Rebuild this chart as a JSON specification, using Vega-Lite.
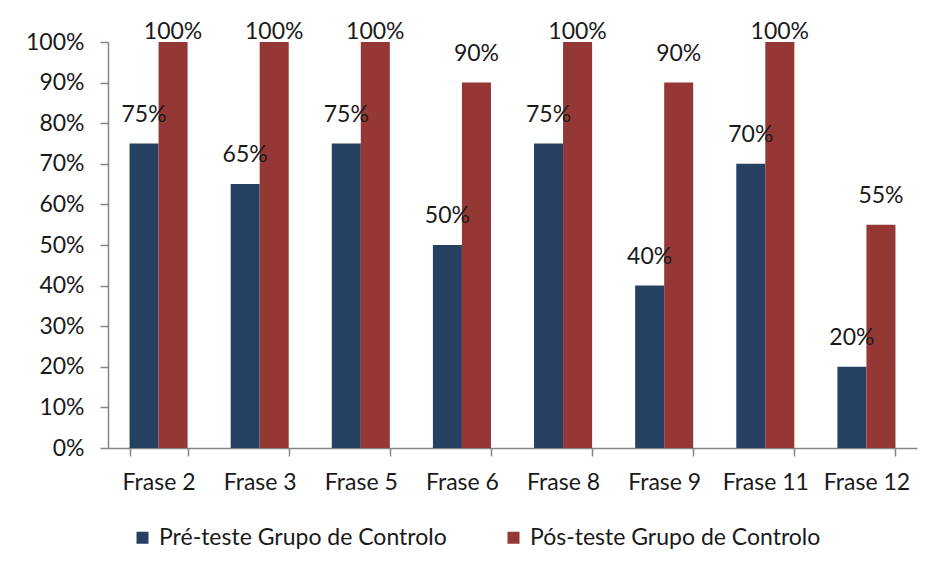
{
  "$schema": "https://vega.github.io/schema/vega-lite/v6.json",
  "width": 809,
  "height": 406,
  "autosize": "none",
  "padding": {"left": 108, "top": 42, "right": 16, "bottom": 120},
  "background": "white",
  "config": {
    "view": {"stroke": null},
    "font": "Lato",
    "axis": {"labelFont": "Lato", "labelFontSize": 23, "labelColor": "#1a1a1a", "domainColor": "#868686", "tickColor": "#868686", "domainWidth": 1.5, "tickWidth": 1.5, "tickSize": 8, "grid": false, "title": null, "labelOverlap": false}
  },
  "data": {
    "values": [
      {"frase": "Frase 2", "serie": "Pré-teste Grupo de Controlo", "value": 0.75},
      {"frase": "Frase 2", "serie": "Pós-teste Grupo de Controlo", "value": 1.0},
      {"frase": "Frase 3", "serie": "Pré-teste Grupo de Controlo", "value": 0.65},
      {"frase": "Frase 3", "serie": "Pós-teste Grupo de Controlo", "value": 1.0},
      {"frase": "Frase 5", "serie": "Pré-teste Grupo de Controlo", "value": 0.75},
      {"frase": "Frase 5", "serie": "Pós-teste Grupo de Controlo", "value": 1.0},
      {"frase": "Frase 6", "serie": "Pré-teste Grupo de Controlo", "value": 0.5},
      {"frase": "Frase 6", "serie": "Pós-teste Grupo de Controlo", "value": 0.9},
      {"frase": "Frase 8", "serie": "Pré-teste Grupo de Controlo", "value": 0.75},
      {"frase": "Frase 8", "serie": "Pós-teste Grupo de Controlo", "value": 1.0},
      {"frase": "Frase 9", "serie": "Pré-teste Grupo de Controlo", "value": 0.4},
      {"frase": "Frase 9", "serie": "Pós-teste Grupo de Controlo", "value": 0.9},
      {"frase": "Frase 11", "serie": "Pré-teste Grupo de Controlo", "value": 0.7},
      {"frase": "Frase 11", "serie": "Pós-teste Grupo de Controlo", "value": 1.0},
      {"frase": "Frase 12", "serie": "Pré-teste Grupo de Controlo", "value": 0.2},
      {"frase": "Frase 12", "serie": "Pós-teste Grupo de Controlo", "value": 0.55}
    ]
  },
  "encoding": {
    "x": {
      "field": "frase", "type": "nominal", "sort": null,
      "scale": {"paddingInner": 0.426, "paddingOuter": 0.213},
      "axis": {"labelAngle": 0, "tickBand": "extent", "labelPadding": 15}
    },
    "xOffset": {
      "field": "serie", "type": "nominal", "sort": ["Pré-teste Grupo de Controlo", "Pós-teste Grupo de Controlo"]
    },
    "y": {
      "field": "value", "type": "quantitative",
      "scale": {"domain": [0, 1], "nice": false},
      "axis": {"format": ".0%", "values": [0, 0.1, 0.2, 0.3, 0.4, 0.5, 0.6, 0.7, 0.8, 0.9, 1.0], "labelPadding": 16}
    }
  },
  "layer": [
    {
      "mark": {"type": "bar"},
      "encoding": {
        "color": {
          "field": "serie", "type": "nominal",
          "sort": ["Pré-teste Grupo de Controlo", "Pós-teste Grupo de Controlo"],
          "scale": {"range": ["#254061", "#953735"]},
          "legend": {
            "title": null, "orient": "none", "direction": "horizontal",
            "legendX": 23, "legendY": 484,
            "symbolType": "square", "symbolSize": 144, "symbolStrokeWidth": 0,
            "labelFont": "Lato", "labelFontSize": 23, "labelColor": "#1a1a1a", "labelLimit": 400,
            "labelOffset": 5, "columnPadding": 55, "padding": 0
          }
        }
      }
    },
    {
      "transform": [{"filter": "datum.value < 1"}],
      "mark": {"type": "text", "baseline": "bottom", "dy": -17, "fontSize": 23, "font": "Lato", "color": "#1a1a1a"},
      "encoding": {"text": {"field": "value", "type": "quantitative", "format": ".0%"}}
    },
    {
      "transform": [{"filter": "datum.value >= 1"}],
      "mark": {"type": "text", "baseline": "bottom", "dy": 2, "fontSize": 23, "font": "Lato", "color": "#1a1a1a"},
      "encoding": {"text": {"field": "value", "type": "quantitative", "format": ".0%"}}
    }
  ]
}
